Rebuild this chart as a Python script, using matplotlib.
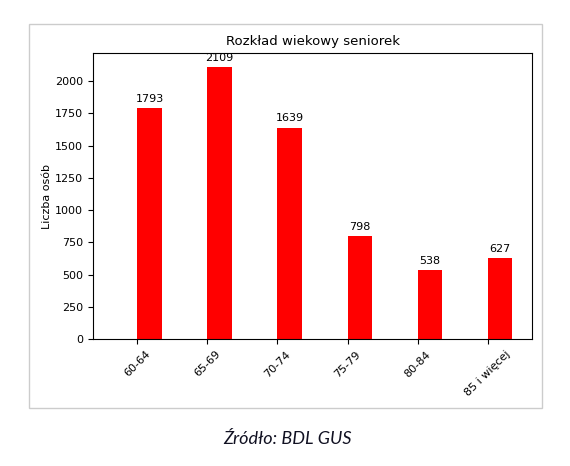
import matplotlib
matplotlib.use("Agg")
from matplotlib import pyplot as plt
from matplotlib.patches import Rectangle
import numpy as np

age_groups = ["60-64", "65-69", "70-74", "75-79", "80-84", "85 i więcej"]
counts = [1793, 2109, 1639, 798, 538, 627]
title = "Rozkład wiekowy seniorek"
y_label = "Liczba osób"
source = "Źródło: BDL GUS"


def plot_seniors():
    '''
    Bar chart of the age distribution of senior women
    '''
    fig = plt.figure(figsize=(5.70, 4.66), dpi=100)

    # grey frame around the pasted chart
    fig.patches.append(Rectangle((0.0514, 0.1245), 0.8995, 0.824,
                                 transform=fig.transFigure, fill=False,
                                 edgecolor="#cccccc", linewidth=1.0))

    ax = fig.add_axes([0.1626, 0.2719, 0.7713, 0.6137])
    x = np.arange(len(age_groups))
    bars = ax.bar(x, counts, width=0.35, align="edge", color="red")
    ax.bar_label(bars, padding=3, fontsize=8)

    ax.set_xlim(-0.635, 5.635)
    ax.set_xticks(x, age_groups, rotation=45)
    ax.tick_params(labelsize=8)
    ax.set_title(title, fontsize=9.5)
    ax.set_ylabel(y_label, fontsize=8, labelpad=2)

    fig.text(0.505, 1 - 444 / 466, source, ha="center", va="baseline",
             fontsize=13, style="italic", family="Lato", color="#111122")

    fig.savefig("out.png", dpi=100)


if __name__ == "__main__":
    plot_seniors()
